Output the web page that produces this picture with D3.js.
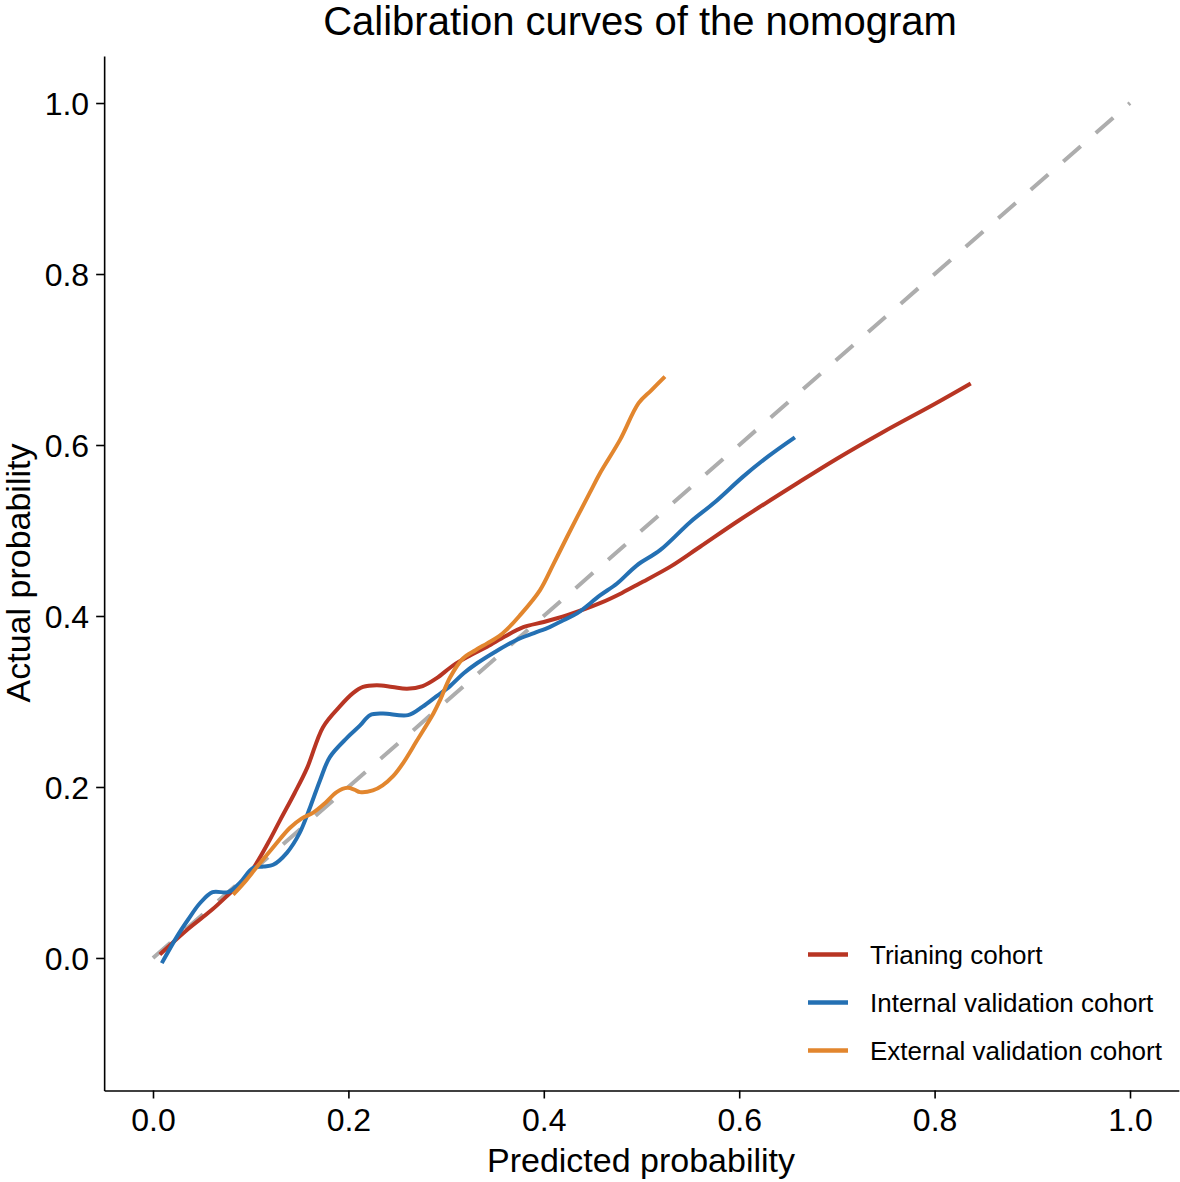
<!DOCTYPE html>
<html>
<head>
<meta charset="utf-8">
<script src="https://cdn.jsdelivr.net/npm/d3@7"></script>
<style>
  html, body { margin: 0; padding: 0; background: #fff; }
  svg { display: block; font-family: "Liberation Sans", Arial, sans-serif; }
</style>
</head>
<body>
<svg id="chart" width="1180" height="1182"></svg>
<script>
// ---- data ----
const title = "Calibration curves of the nomogram";
const xLabel = "Predicted probability";
const yLabel = "Actual probability";
const tickValues = [0.0, 0.2, 0.4, 0.6, 0.8, 1.0];
const seriesNames = ["Trianing cohort", "Internal validation cohort", "External validation cohort"];
const seriesColors = ["#B83523", "#2470B3", "#E2862E"];

const trainX = [0.007,0.035,0.060,0.079,0.095,0.106,0.118,0.130,0.145,0.158,0.174,0.191,0.205,0.215,0.229,0.245,0.260,0.276,0.290,0.307,0.325,0.342,0.360,0.379,0.400,0.424,0.4575,0.480,0.498,0.530,0.560,0.600,0.659,0.700,0.747,0.800,0.837];
const trainY = [0.004,0.033,0.056,0.076,0.093,0.111,0.135,0.161,0.193,0.223,0.270,0.294,0.310,0.317,0.319,0.317,0.315,0.318,0.327,0.342,0.354,0.364,0.376,0.387,0.393,0.401,0.415,0.427,0.438,0.458,0.481,0.512,0.555,0.584,0.615,0.648,0.672];

const internalX = [0.009,0.0245,0.036,0.048,0.061,0.077,0.089,0.102,0.113,0.123,0.137,0.150,0.161,0.171,0.181,0.199,0.212,0.222,0.235,0.261,0.276,0.290,0.304,0.318,0.332,0.350,0.372,0.390,0.406,0.420,0.434,0.4575,0.475,0.495,0.519,0.550,0.575,0.604,0.630,0.657];
const internalY = [-0.006,0.025,0.045,0.064,0.077,0.077,0.088,0.105,0.107,0.109,0.123,0.146,0.177,0.208,0.235,0.258,0.272,0.284,0.286,0.284,0.294,0.306,0.318,0.333,0.345,0.358,0.372,0.380,0.387,0.395,0.403,0.424,0.438,0.459,0.477,0.510,0.533,0.563,0.587,0.609];

const externalX = [0.082,0.094,0.106,0.122,0.140,0.152,0.164,0.176,0.188,0.199,0.206,0.212,0.225,0.235,0.246,0.256,0.270,0.287,0.294,0.304,0.317,0.330,0.342,0.355,0.362,0.375,0.396,0.410,0.424,0.447,0.4575,0.478,0.497,0.510,0.524];
const externalY = [0.074,0.089,0.106,0.128,0.152,0.163,0.170,0.181,0.194,0.199,0.197,0.194,0.196,0.202,0.213,0.228,0.254,0.286,0.302,0.328,0.350,0.360,0.368,0.377,0.384,0.400,0.430,0.461,0.493,0.544,0.567,0.606,0.649,0.664,0.680];

const refX = [0, 1];
const refY = [0, 1];

// ---- layout ----
const svg = d3.select("#chart");
const x = d3.scaleLinear().domain([-0.05, 1.05]).range([104.15, 1178.85]);
const y = d3.scaleLinear().domain([-0.155, 1.055]).range([1090.5, 56]);

const font = '"Liberation Sans", Arial, sans-serif';

// reference diagonal
const line = d3.line().x(d => x(d[0])).y(d => y(d[1]));
svg.append("path")
  .datum(refX.map((v, i) => [v, refY[i]]))
  .attr("d", line)
  .attr("fill", "none")
  .attr("stroke", "#ADADAD")
  .attr("stroke-width", 4)
  .attr("stroke-dasharray", "23.2,20");

const series = [
  [trainX, trainY],
  [internalX, internalY],
  [externalX, externalY]
];

series.forEach((s, k) => {
  svg.append("path")
    .datum(s[0].map((v, i) => [v, s[1][i]]))
    .attr("d", line.curve(d3.curveCatmullRom.alpha(0.5)))
    .attr("fill", "none")
    .attr("stroke", seriesColors[k])
    .attr("stroke-width", 4)
    .attr("stroke-linejoin", "round");
});

// axes
const xAxis = d3.axisBottom(x).tickValues(tickValues).tickFormat(d3.format(".1f")).tickSize(8).tickPadding(10).tickSizeOuter(0);
const yAxis = d3.axisLeft(y).tickValues(tickValues).tickFormat(d3.format(".1f")).tickSize(8).tickPadding(7).tickSizeOuter(0);

const gx = svg.append("g").attr("transform", `translate(0,${y(-0.155)})`).call(xAxis);
const gy = svg.append("g").attr("transform", `translate(${x(-0.05)},0)`).call(yAxis);

[gx, gy].forEach(g => {
  g.select(".domain").attr("stroke", "#000").attr("stroke-width", 1.6);
  g.selectAll(".tick line").attr("stroke", "#000").attr("stroke-width", 1.6);
  g.selectAll(".tick text").attr("fill", "#000").style("font-size", "32px").style("font-family", font);
});
gx.selectAll(".tick text").attr("dy", "0.71em");
gy.selectAll(".tick text").attr("dy", "0.36em");

// title & axis labels
svg.append("text").attr("x", 640).attr("y", 35).attr("text-anchor", "middle")
  .style("font-size", "40px").style("font-family", font).attr("fill", "#000").text(title);
svg.append("text").attr("x", 641).attr("y", 1172).attr("text-anchor", "middle")
  .style("font-size", "34px").style("font-family", font).attr("fill", "#000").text(xLabel);
svg.append("text").attr("transform", "translate(30,573) rotate(-90)").attr("text-anchor", "middle")
  .style("font-size", "34px").style("font-family", font).attr("fill", "#000").text(yLabel);

// legend
const legend = svg.append("g");
seriesNames.forEach((name, i) => {
  const ly = 954.5 + i * 48;
  legend.append("line").attr("x1", 808).attr("x2", 848).attr("y1", ly).attr("y2", ly)
    .attr("stroke", seriesColors[i]).attr("stroke-width", 4.5);
  legend.append("text").attr("x", 870).attr("y", ly).attr("dy", "0.35em")
    .style("font-size", "26px").style("font-family", font).attr("fill", "#000").text(name);
});
</script>
</body>
</html>
